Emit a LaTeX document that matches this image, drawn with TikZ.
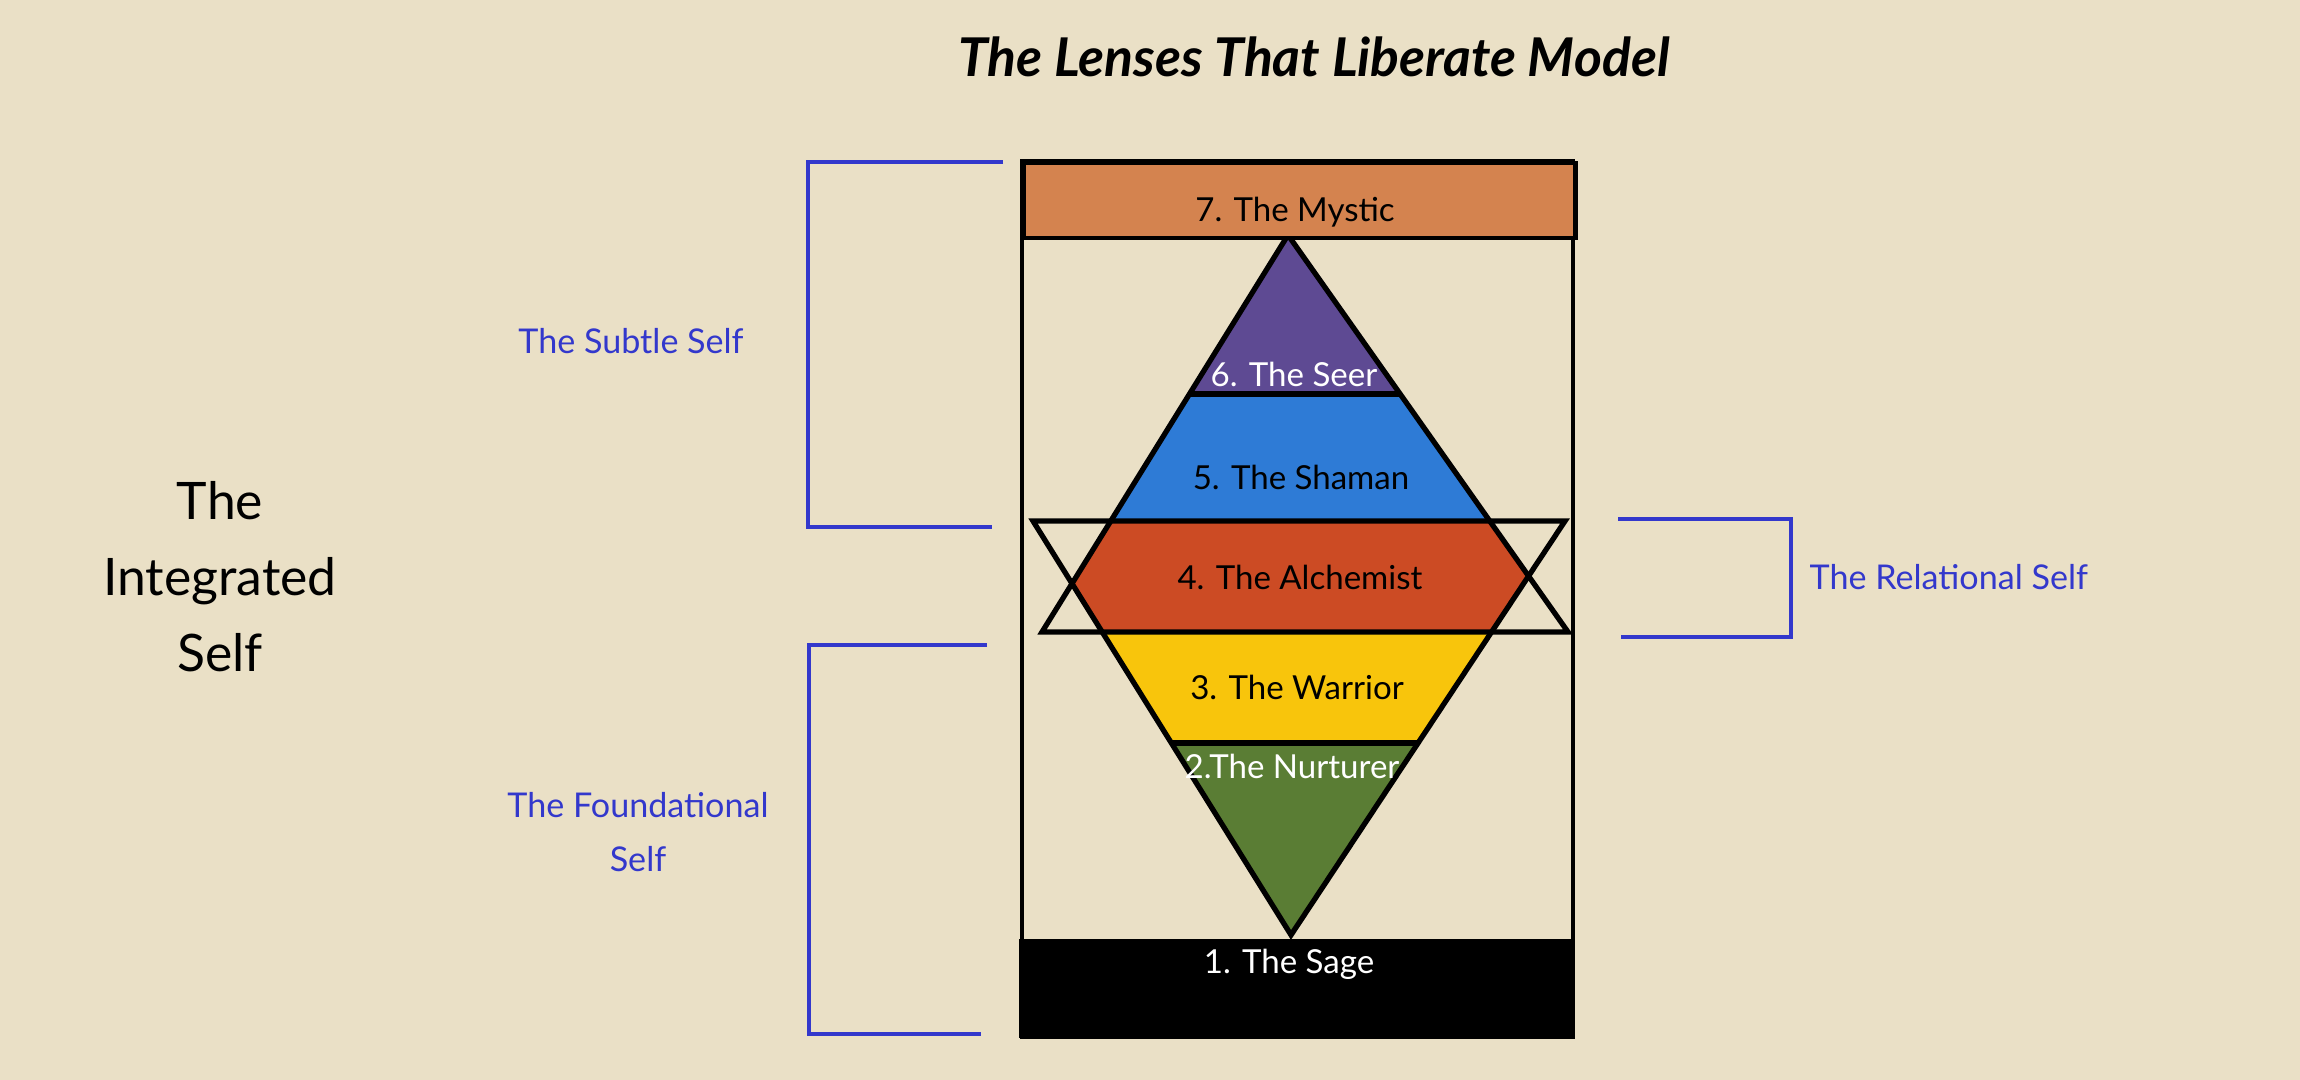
\documentclass[tikz,border=0pt]{standalone}
\usepackage{fontspec}
\setmainfont{Lato}
\usepackage{tikz}
\usetikzlibrary{positioning, calc}
\definecolor{paper}{RGB}{234,224,198}
\definecolor{mystic}{RGB}{212,131,79}
\definecolor{seer}{RGB}{94,74,147}
\definecolor{shaman}{RGB}{46,123,214}
\definecolor{alchemist}{RGB}{204,75,36}
\definecolor{warrior}{RGB}{248,197,12}
\definecolor{nurturer}{RGB}{90,125,52}
\definecolor{groupblue}{RGB}{51,56,204}
\tikzset{
  lens/.style={inner sep=0pt, anchor=base, font=\fontsize{9.4}{11}\selectfont},
  selflabel/.style={inner sep=0pt, text=groupblue, align=center, font=\fontsize{9.7}{15.4}\selectfont},
  groupline/.style={draw=groupblue, line width=1pt},
  outline/.style={draw=black, line width=1.5pt, line join=miter},
  lensframe/.style={draw=black, line width=1.25pt}
}

\begin{document}
\begin{tikzpicture}[x=0.01cm, y=-0.01cm]
        % parchment background
        \fill[paper] (0,0) rectangle (2300,1080);
        \useasboundingbox (0,0) rectangle (2300,1080);

        \node (title) [inner sep=0pt, anchor=base, font=\fontsize{15.2}{18}\selectfont\bfseries\itshape] at (1314,77) {The Lenses That Liberate Model};

        % corners of the two triangles
        \coordinate (upT) at (1288,235);
        \coordinate (upL) at (1042,632);
        \coordinate (upR) at (1568,632);
        \coordinate (dnB) at (1291,935);
        \coordinate (dnL) at (1033,521);
        \coordinate (dnR) at (1565,521);
        \coordinate (vL) at (intersection of upT--upL and dnL--dnB);
        \coordinate (vR) at (intersection of upT--upR and dnR--dnB);

        % coloured bands inside the diamond
        \begin{scope}
            \clip (upT) -- (vR) -- (dnB) -- (vL) -- cycle;
            \fill[seer] (1000,230) rectangle (1600,394);
            \fill[shaman] (1000,394) rectangle (1600,521);
            \fill[alchemist] (1000,521) rectangle (1600,632);
            \fill[warrior] (1000,632) rectangle (1600,743);
            \fill[nurturer] (1000,743) rectangle (1600,940);
            \draw[outline] (1000,394) -- (1600,394);
            \draw[outline] (1000,743) -- (1600,743);
        \end{scope}

        \draw[lensframe] (1022,161) rectangle (1573,1037);
        \draw[outline] (upT) -- (upR) -- (upL) -- cycle;
        \draw[outline] (dnB) -- (dnR) -- (dnL) -- cycle;

        \node (mystic) [lensframe, fill=mystic, minimum width=5.51cm, minimum height=0.75cm, anchor=north west] at (1022,161) {};
        \node (sage) [fill=black, inner sep=0pt, minimum width=5.56cm, minimum height=0.99cm, anchor=north west] at (1018,938) {};

        \node (l7) [lens] at (1295,222) {7. The Mystic};
        \node (l6) [lens, text=white] at (1294,387) {6. The Seer};
        \node (l5) [lens] at (1301,490) {5. The Shaman};
        \node (l4) [lens] at (1300,590) {4. The Alchemist};
        \node (l3) [lens] at (1297,700) {3. The Warrior};
        \node (l2) [lens, text=white] at (1292,779) {2.The Nurturer};
        \node (l1) [lens, text=white] at (1289,973) {1. The Sage};

        % group brackets
        \coordinate (subtleTop) at (1003,162);
        \coordinate (subtleBot) at (992,527);
        \coordinate (foundTop) at (987,645);
        \coordinate (foundBot) at (981,1034);
        \coordinate (relTop) at (1618,519);
        \coordinate (relBot) at (1621,637);
        \draw[groupline] (subtleTop) -| (808,527) -- (subtleBot);
        \draw[groupline] (foundTop) -| (809,1034) -- (foundBot);
        \draw[groupline] (relTop) -| (1791,637) -- (relBot);

        \node (subtle) [selflabel, anchor=base] at (631,354) {The Subtle Self};
        \node (found) [selflabel, anchor=north] at (638,792) {The Foundational\\Self};
        \node (relational) [selflabel, anchor=base west] at (1809,590) {The Relational Self};

        \node (integrated) [inner sep=0pt, anchor=north, align=center, font=\fontsize{14.7}{21.6}\selectfont] at (220,481) {The\\Integrated\\Self};
\end{tikzpicture}
\end{document}
